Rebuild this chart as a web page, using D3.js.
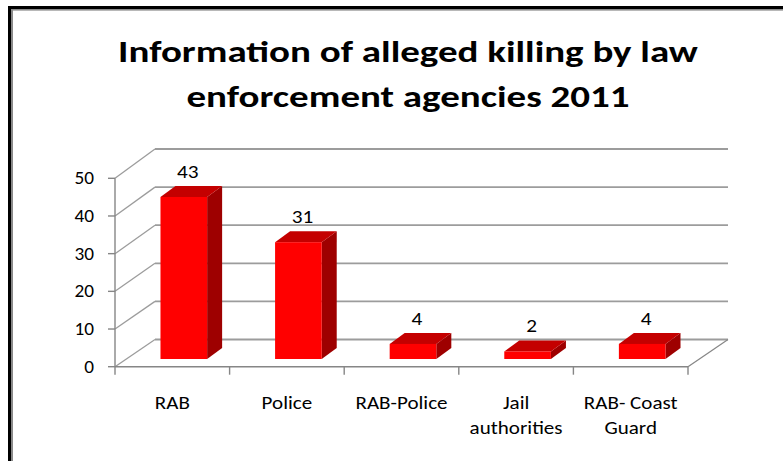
<!DOCTYPE html>
<html>
<head>
<meta charset="utf-8">
<script src="https://cdn.jsdelivr.net/npm/d3@7"></script>
<style>
  html, body { margin: 0; padding: 0; background: #fff; }
  svg { display: block; }
  text { font-family: Carlito, Calibri, Lato, "Open Sans", sans-serif; fill: #000; }
</style>
</head>
<body>
<svg id="chart" width="783" height="461"></svg>
<script>
// Chart data
const titleLines = ["Information of alleged killing by law", "enforcement agencies 2011"];
const categories = ["RAB", "Police", "RAB-Police", "Jail authorities", "RAB- Coast Guard"];
const categoryLines = [["RAB"], ["Police"], ["RAB-Police"], ["Jail", "authorities"], ["RAB- Coast", "Guard"]];
const killings = [43, 31, 4, 2, 4];
const yTicks = [0, 10, 20, 30, 40, 50];

const svg = d3.select("#chart");

// Text helper: places a label and widens glyphs horizontally by sx
function label(parent, x, y, txt, opts = {}) {
  const sx = opts.sx || 1.15;
  return parent.append("text")
    .attr("transform", `translate(${x},${y}) scale(${sx},1)`)
    .attr("text-anchor", opts.anchor || "middle")
    .attr("font-size", opts.size || 18)
    .attr("font-weight", opts.weight || "normal")
    .attr("fill", opts.fill || "#222")
    .text(txt);
}

// Frame border (dark line with grey inner edge)
svg.append("rect").attr("x", 8).attr("y", 6).attr("width", 775).attr("height", 3).attr("fill", "#000");
svg.append("rect").attr("x", 8).attr("y", 6).attr("width", 3).attr("height", 455).attr("fill", "#000");
svg.append("rect").attr("x", 11).attr("y", 9).attr("width", 772).attr("height", 1.6).attr("fill", "#8a8a8a");
svg.append("rect").attr("x", 11).attr("y", 9).attr("width", 2).attr("height", 452).attr("fill", "#8a8a8a");

// Title, widened to span its full line
const title = svg.append("g");
const titleText = titleLines.map((t, i) =>
  label(title, 408, 62 + i * 45, t, { size: 31, weight: "bold", fill: "#000", sx: 1 }));
const w0 = titleText[0].node().getComputedTextLength();
const tsx = 580 / w0;
titleText.forEach((t, i) => t.attr("transform", `translate(408,${62 + i * 45}) scale(${tsx},1)`));

// Scales: front plane, back wall, and category band along the floor
const x = d3.scaleBand().domain(categories).range([115, 688]);
const yFront = d3.scaleLinear().domain([0, 50]).range([366.7, 178.3]);
const yBack = d3.scaleLinear().domain([0, 50]).range([339.5, 149]);
const depth = { dx: 40, dy: -27 };
const barOff = { dx: 11.5, dy: -7.7 };   // bar front face inside the floor depth
const barDepth = { dx: 15, dy: -11 };    // bar thickness along depth
const barWidth = x.bandwidth() * 0.407;

const gridColor = "#9c9c9c";
const axisColor = "#868686";

// Back wall gridlines
svg.append("g").selectAll("line").data(yTicks).join("line")
  .attr("x1", x.range()[0] + depth.dx).attr("x2", x.range()[1] + depth.dx)
  .attr("y1", d => yBack(d)).attr("y2", d => yBack(d))
  .attr("stroke", gridColor).attr("stroke-width", 1.8);

// Side wall diagonals
svg.append("g").selectAll("line").data(yTicks).join("line")
  .attr("x1", x.range()[0]).attr("y1", d => yFront(d))
  .attr("x2", x.range()[0] + depth.dx).attr("y2", d => yBack(d))
  .attr("stroke", gridColor).attr("stroke-width", 1.3);

// Floor front edge and right edge
svg.append("line")
  .attr("x1", x.range()[0]).attr("x2", x.range()[1])
  .attr("y1", yFront(0)).attr("y2", yFront(0))
  .attr("stroke", axisColor).attr("stroke-width", 1.4);
svg.append("line")
  .attr("x1", x.range()[1]).attr("y1", yFront(0))
  .attr("x2", x.range()[1] + depth.dx).attr("y2", yBack(0))
  .attr("stroke", axisColor).attr("stroke-width", 1.2);

// Vertical axis line
svg.append("line")
  .attr("x1", x.range()[0]).attr("x2", x.range()[0])
  .attr("y1", yFront(0)).attr("y2", yFront(50))
  .attr("stroke", axisColor).attr("stroke-width", 1.4);

// Y ticks and labels
svg.append("g").selectAll("line").data(yTicks).join("line")
  .attr("x1", x.range()[0] - 7).attr("x2", x.range()[0])
  .attr("y1", d => yFront(d)).attr("y2", d => yFront(d))
  .attr("stroke", axisColor).attr("stroke-width", 1.4);
const yLab = svg.append("g");
yTicks.forEach(d => label(yLab, 94, yFront(d) + 6, d, { anchor: "end", size: 17.5, sx: 1.1 }));

// Category ticks
const catEdges = categories.map(c => x(c)).concat([x.range()[1]]);
svg.append("g").selectAll("line").data(catEdges).join("line")
  .attr("x1", d => d).attr("x2", d => d)
  .attr("y1", yFront(0)).attr("y2", yFront(0) + 8)
  .attr("stroke", axisColor).attr("stroke-width", 1.4);

// Category labels
const catG = svg.append("g");
categories.forEach((c, i) => {
  const cx = x(c) + x.bandwidth() / 2;
  categoryLines[i].forEach((line, j) => label(catG, cx, 409 + j * 25, line, { size: 18, sx: 1.17 }));
});

// 3D bars
const h = v => yFront(0) - yFront(v);
const bars = categories.map((c, i) => {
  const xl = x(c) + x.bandwidth() / 2 + barOff.dx - barWidth / 2;
  const xr = xl + barWidth;
  const yb = yFront(0) + barOff.dy;
  const yt = yb - h(killings[i]);
  return { c, v: killings[i], xl, xr, yb, yt };
});
const barG = svg.append("g");
const pts = a => a.map(p => p.join(",")).join(" ");
bars.forEach(b => {
  const g = barG.append("g");
  // side face
  g.append("polygon").attr("points", pts([
    [b.xr, b.yb], [b.xr + barDepth.dx, b.yb + barDepth.dy],
    [b.xr + barDepth.dx, b.yt + barDepth.dy], [b.xr, b.yt]
  ])).attr("fill", "#9e0000");
  // top face
  g.append("polygon").attr("points", pts([
    [b.xl, b.yt], [b.xl + barDepth.dx, b.yt + barDepth.dy],
    [b.xr + barDepth.dx, b.yt + barDepth.dy], [b.xr, b.yt]
  ])).attr("fill", "#c40000");
  // front face
  g.append("rect")
    .attr("x", b.xl).attr("y", b.yt)
    .attr("width", b.xr - b.xl).attr("height", b.yb - b.yt)
    .attr("fill", "#ff0000");
});

// Value labels
const valG = svg.append("g");
bars.forEach(d => label(valG, (d.xl + d.xr) / 2 + 4, d.yt + barDepth.dy - 8, d.v, { size: 18.5, sx: 1.15 }));
</script>
</body>
</html>
